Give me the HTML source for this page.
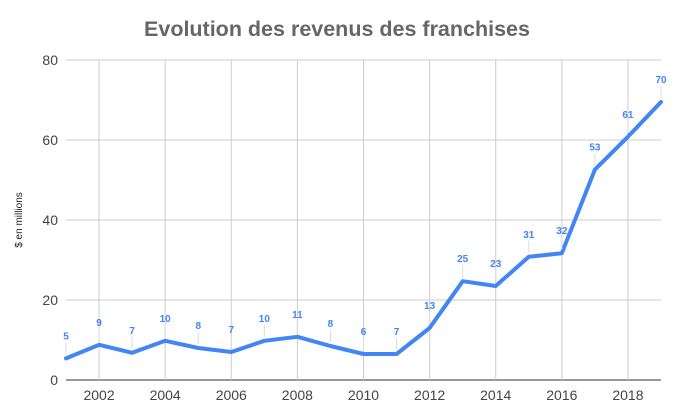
<!DOCTYPE html>
<html><head><meta charset="utf-8"><style>
html,body{margin:0;padding:0;background:#fff;}
svg{display:block;font-family:"Liberation Sans",Arial,sans-serif;}
</style></head><body>
<svg id="chart" width="680" height="418">
<text x="337" y="36" text-anchor="middle" font-size="21.5" font-weight="bold" fill="#666">Evolution des revenus des franchises</text>
<text transform="translate(22,220) rotate(-90)" text-anchor="middle" font-size="10" fill="#222">$ en millions</text>
<g id="grid"></g><g id="marks"></g>
</svg>
<script>
const years=[2001,2002,2003,2004,2005,2006,2007,2008,2009,2010,2011,2012,2013,2014,2015,2016,2017,2018,2019];
const revenues=[5.4,8.8,6.8,9.8,8,7,9.8,10.8,8.5,6.5,6.5,13,24.7,23.5,30.8,31.7,52.6,60.8,69.5];
const valueLabels=["5","9","7","10","8","7","10","11","8","6","7","13","25","23","31","32","53","61","70"];
const yTicks=[0,20,40,60,80];
const xTicks=[2002,2004,2006,2008,2010,2012,2014,2016,2018];
const NS="http://www.w3.org/2000/svg";
const L=66,R=661,T=60,B=380;
const x=v=>L+(v-2001)/(2019-2001)*(R-L);
const y=v=>B-v/80*(B-T);
function mk(t,a,p){const e=document.createElementNS(NS,t);for(const k in a)e.setAttribute(k,a[k]);p.appendChild(e);return e;}
const g=document.getElementById('grid'),m=document.getElementById('marks');
yTicks.forEach(v=>{
 const l=mk('line',{x1:L,x2:R,y1:y(v),y2:y(v),stroke:v===0?'#333':'#ccc','stroke-width':1},g);
 
 
 const t=mk('text',{x:L-8,y:y(v)+5,'text-anchor':'end','font-size':14,fill:'#444'},g);t.textContent=v;
 
 
});
xTicks.forEach(v=>{
 const l=mk('line',{x1:x(v),x2:x(v),y1:T,y2:B,stroke:'#ccc','stroke-width':1},g);
 
 
 const t=mk('text',{x:x(v),y:B+20,'text-anchor':'middle','font-size':14,fill:'#444'},g);t.textContent=v;
 
 
});
const d=years.map((yr,i)=>(i?'L':'M')+x(yr).toFixed(1)+','+y(revenues[i]).toFixed(1)).join(' ');
const p=mk('path',{d:d,fill:'none',stroke:'#4285f4','stroke-width':4,'stroke-linejoin':'round','stroke-linecap':'round'},m);


years.forEach((yr,i)=>{
 const px=x(yr),py=y(revenues[i]);
 const ln=mk('line',{x1:px,x2:px,y1:py-16,y2:py-4,stroke:'#ddd','stroke-width':1},m);
 
 
 const t=mk('text',{x:px,y:py-19,'text-anchor':'middle','font-size':10,'font-weight':'bold',fill:'#4285f4'},m);
 t.textContent=valueLabels[i];
 
 
});
</script>
</body></html>
